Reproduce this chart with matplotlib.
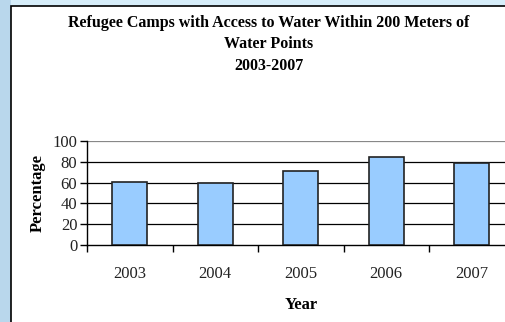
import matplotlib.pyplot as plt
from matplotlib.patches import Rectangle

years = ['2003', '2004', '2005', '2006', '2007']
percentages = [61, 60, 71, 85, 79]
y_ticks = [0, 20, 40, 60, 80, 100]

plt.rcParams['font.family'] = ['Liberation Serif', 'DejaVu Serif']

W, H = 506, 322
fig = plt.figure(figsize=(W / 100, H / 100), dpi=100)
fig.patch.set_facecolor('#d6edf9')

# page backdrop on the left edge
fig.patches.append(Rectangle((0, 0), 11 / W, 1, transform=fig.transFigure,
                             facecolor='#b9d7ec', edgecolor='none', zorder=0))
# white chart frame
fig.patches.append(Rectangle((11 / W, -0.1), 1.2, 1 - 6 / H + 0.1,
                             transform=fig.transFigure, facecolor='white',
                             edgecolor='black', linewidth=1.2, zorder=1))

# plot area: left x=87, top y=141, bottom y=245; category spacing ~85.5 px
left, top, bottom = 87, 141, 245
step = 85.5
ax = fig.add_axes([left / W, 1 - bottom / H, 5 * step / W, (bottom - top) / H])
ax.set_zorder(2)
ax.patch.set_alpha(0)

x = range(len(years))
ax.bar(x, percentages, width=0.41, color='#99ccff', edgecolor='#222222',
       linewidth=1.2, zorder=3)

ax.set_xlim(-0.5, len(years) - 0.5)
ax.set_ylim(0, 100)
ax.set_yticks(y_ticks)
ax.set_yticklabels([str(v) for v in y_ticks], fontsize=12, color='#222222')
for v in y_ticks[1:-1]:
    ax.axhline(v, color='black', linewidth=0.9, zorder=1)
ax.axhline(100, color='#888888', linewidth=0.9, zorder=1)

ax.set_xticks([i - 0.5 for i in range(len(years))], minor=False)
ax.set_xticklabels([])
ax.set_xticks(list(x), minor=True)
ax.set_xticklabels(years, minor=True, fontsize=12, color='#222222')
ax.tick_params(axis='x', which='major', length=5, width=1, direction='out')
ax.tick_params(axis='x', which='minor', length=0, pad=15)
ax.tick_params(axis='y', length=5, width=1, direction='out', pad=2)

for side in ['top', 'right']:
    ax.spines[side].set_visible(False)
ax.spines['left'].set_linewidth(1)
ax.spines['bottom'].set_linewidth(1)

ax.set_ylabel('Percentage', fontsize=12, fontweight='bold', labelpad=5)
ax.set_xlabel('Year', fontsize=12, fontweight='bold', labelpad=11)

title_kw = dict(ha='center', va='center', fontsize=11.5, fontweight='bold',
                zorder=4)
fig.text(269 / W, 1 - 23 / H,
         'Refugee Camps with Access to Water Within 200 Meters of', **title_kw)
fig.text(269 / W, 1 - 44.5 / H, 'Water Points', **title_kw)
fig.text(269 / W, 1 - 66.5 / H, '2003-2007', **title_kw)

fig.savefig('out.png', dpi=100, facecolor=fig.get_facecolor())
